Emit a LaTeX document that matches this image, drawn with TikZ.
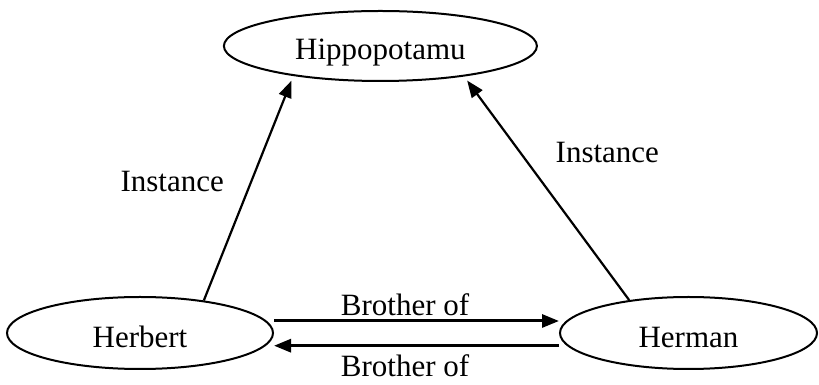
\documentclass[tikz,border=0pt]{standalone}
\usepackage{fontspec}
\setmainfont{Liberation Serif}
\usetikzlibrary{shapes.geometric, arrows.meta, positioning}

\begin{document}
\begin{tikzpicture}[x=1pt, y=1pt, >={Triangle[length=17pt, width=13pt]}]
    % stili
    \tikzstyle{concept} = [draw, ellipse, line width=2pt, inner sep=0pt, text height=29pt, text depth=0pt, font=\fontsize{31}{37}\selectfont]
    \tikzstyle{isa} = [->, line width=2.2pt, shorten >=5pt]
    \tikzstyle{rel} = [->, line width=3pt]
    \tikzstyle{lbl} = [font=\fontsize{31}{37}\selectfont]

    \useasboundingbox (0,0) rectangle (819,385);

    % Nodi
    \node [concept, minimum width=313pt, minimum height=70pt, text height=27pt] (hippo) at (380.4,339) {Hippopotamu};
    \node [concept, minimum width=266pt, minimum height=72pt] (herbert) at (140,52) {Herbert};
    \node [concept, minimum width=257pt, minimum height=72pt] (herman) at (688.5,52) {Herman};

    % Instance
    \draw [isa] (herbert.27) -- node [lbl, pos=0.53, left=23pt] (instleft) {Instance} (hippo.199.6);
    \draw [isa] (herman.151) -- node [lbl, pos=0.66, right=31pt] (instright) {Instance} (hippo.340.8);

    % Brother of
    \draw [rel] ([yshift=12pt]herbert.east) -- node [lbl, pos=0.46, above] (bro1) {Brother of} ([yshift=12pt]herman.west);
    \draw [rel] ([yshift=-12.7pt]herman.west) -- node [lbl, pos=0.54, below=4pt] (bro2) {Brother of} ([yshift=-12.7pt]herbert.east);
\end{tikzpicture}
\end{document}
